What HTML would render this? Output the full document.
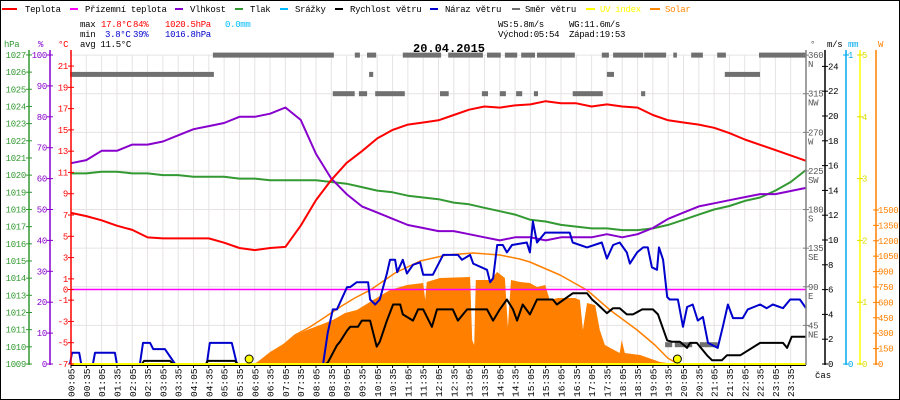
<!DOCTYPE html>
<html><head><meta charset="utf-8">
<style>
html,body{margin:0;padding:0;background:#fff;}
svg{display:block;font-family:"Liberation Mono","DejaVu Sans Mono",monospace;}
</style></head>
<body>
<svg id="chart" width="900" height="400" viewBox="0 0 900 400" xmlns="http://www.w3.org/2000/svg">
<rect x="0" y="0" width="900" height="400" fill="#fff"/>
<rect x="0.5" y="0.5" width="899" height="399" fill="none" stroke="#000"/>
<g id="grid"></g>
<g id="series"></g>
<g id="axes"></g>
<g font-size="9" letter-spacing="-0.3">
 <g><rect x="2" y="8" width="15" height="2" fill="#f00"/><text x="25" y="12">Teplota</text></g>
 <g><rect x="70" y="8" width="8" height="2" fill="#f0f"/><text x="85" y="12">Přízemní teplota</text></g>
 <g><rect x="175" y="8" width="8" height="2" fill="#80c"/><text x="190" y="12">Vlhkost</text></g>
 <g><rect x="235" y="8" width="8" height="2" fill="#393"/><text x="250" y="12">Tlak</text></g>
 <g><rect x="280" y="8" width="8" height="2" fill="#0bf"/><text x="295" y="12">Srážky</text></g>
 <g><rect x="335" y="8" width="8" height="2" fill="#000"/><text x="350" y="12">Rychlost větru</text></g>
 <g><rect x="430" y="8" width="8" height="2" fill="#00c"/><text x="445" y="12">Náraz větru</text></g>
 <g><rect x="512" y="8" width="8" height="2" fill="#707070"/><text x="525" y="12">Směr větru</text></g>
 <g><rect x="586" y="8" width="9" height="2" fill="#ff0"/><text x="600" y="12" fill="#ff0">UV index</text></g>
 <g><rect x="650" y="8" width="10" height="2" fill="#f80"/><text x="665" y="12" fill="#f80">Solar</text></g>
</g>
<g font-size="9" letter-spacing="-0.3">
 <text x="80" y="27">max</text><text x="101" y="27" fill="#f00">17.8°C</text><text x="133" y="27" fill="#f00">84%</text><text x="165" y="27" fill="#f00">1020.5hPa</text><text x="225" y="27" fill="#0bf">0.0mm</text>
 <text x="80" y="37">min</text><text x="105" y="37" fill="#00c">3.8°C</text><text x="133" y="37" fill="#00c">39%</text><text x="165" y="37" fill="#00c">1016.8hPa</text>
 <text x="80" y="47">avg 11.5°C</text>
 <text x="498" y="27">WS:5.8m/s</text><text x="569" y="27">WG:11.6m/s</text>
 <text x="498" y="37">Východ:05:54</text><text x="569" y="37">Západ:19:53</text>
</g>
<text x="413" y="52" font-size="12" font-weight="bold">20.04.2015</text>
<text x="815" y="378" font-size="9">čas</text>
</svg>
<script>
// ---- data ----
const halfHourTimes = [5,35,65,95,125,155,185,215,245,275,305,335,365,395,425,455,485,515,545,575,605,635,665,695,725,755,785,815,845,875,905,935,965,995,1025,1055,1085,1115,1145,1175,1205,1235,1265,1295,1325,1355,1385,1415,1445];
const temperature = [7.2,6.9,6.5,6.0,5.6,4.9,4.8,4.8,4.8,4.8,4.4,3.9,3.7,3.9,4.0,6.0,8.4,10.3,11.9,13.0,14.2,15.0,15.5,15.7,15.9,16.4,16.9,17.2,17.1,17.3,17.4,17.7,17.5,17.5,17.2,17.4,17.2,17.1,16.4,15.9,15.7,15.5,15.2,14.7,14.1,13.6,13.1,12.6,12.1];
const humidity = [65,66,69,69,71,71,72,74,76,77,78,80,80,81,83,79,68,60,55,51,49,47,45,44,43,43,42,41,40,41,41,40,41,41,41,42,41,42,44,47,49,51,52,53,54,55,55,56,57];
const pressure = [1020.1,1020.1,1020.2,1020.2,1020.1,1020.1,1020.0,1020.0,1019.9,1019.9,1019.9,1019.8,1019.8,1019.7,1019.7,1019.7,1019.7,1019.6,1019.5,1019.3,1019.1,1019.0,1018.8,1018.7,1018.6,1018.4,1018.3,1018.1,1017.9,1017.7,1017.4,1017.3,1017.1,1017.0,1016.9,1016.9,1016.8,1016.8,1016.9,1017.1,1017.4,1017.7,1018.0,1018.2,1018.5,1018.7,1019.1,1019.6,1020.3];

const gustTimes = [3,7,21,25,48,52,91,95,140,146,160,166,189,209,271,277,320,330,499,508,518,526,546,552,565,587,591,601,610,624,630,640,644,655,663,675,689,695,714,734,763,771,787,793,820,826,832,840,851,859,869,898,904,910,918,934,982,988,1016,1045,1055,1067,1080,1094,1100,1114,1126,1135,1143,1153,1157,1165,1173,1178,1194,1204,1212,1223,1233,1243,1253,1272,1282,1292,1302,1321,1331,1355,1368,1380,1400,1414,1433,1445];
const gustValues = [0,0.9,0.9,0,0,0.9,0.9,0,0,1.7,1.7,1.2,1.2,0,0,1.7,1.7,0,0,2.5,4.4,4.4,6.2,6.2,6.6,6.6,5.2,4.8,5.2,7.3,8.4,8.4,7.4,8.4,7.3,8.0,8.2,7.2,7.2,8.8,8.8,8.4,8.8,8.1,7.6,6.6,6.9,9.6,9.6,9.0,9.6,9.8,9.0,11.5,9.8,10.6,10.6,9.8,9.4,9.8,8.5,9.6,9.8,9.0,8.1,9.0,9.4,9.4,7.8,7.6,9.4,8.4,5.4,5.2,5.2,3.0,4.6,4.8,3.5,3.8,1.7,1.3,3.0,4.8,3.7,3.7,4.4,4.8,4.5,4.8,4.5,5.2,5.2,4.5];

const windTimes = [5,144,148,199,205,269,273,326,332,503,508,526,532,546,552,567,575,591,604,610,624,636,650,655,675,685,695,712,722,753,763,781,820,832,845,859,871,879,890,904,918,949,957,988,1016,1026,1037,1055,1067,1080,1094,1106,1124,1145,1155,1173,1182,1198,1212,1218,1231,1251,1261,1280,1290,1316,1355,1400,1408,1417,1445];
const windValues = [0,0,0.25,0.25,0,0,0.25,0.25,0,0,0.1,1.5,1.8,2.7,3.0,3.0,3.5,3.5,1.4,1.8,3.5,4.8,4.8,4.0,3.5,4.4,4.4,3.0,4.4,4.4,3.5,4.4,4.4,3.5,4.4,5.2,4.4,3.5,4.8,4.0,5.2,5.2,4.8,5.7,5.7,5.2,4.8,4.1,4.5,4.5,4.0,4.0,4.4,4.4,4.0,1.9,1.8,1.8,1.3,1.7,1.7,0.7,0.3,0.3,0.7,0.7,1.7,1.7,1.3,2.2,2.2];

const solarTimes = [365,395,424,444,467,493,518,542,565,597,630,663,695,699,702,728,787,791,795,798,826,840,855,861,867,885,904,918,934,943,959,967,992,1002,1008,1016,1032,1041,1051,1080,1084,1090,1120,1159,1188];
const solarValues = [0,117,204,282,331,380,428,497,526,623,721,769,789,623,798,837,847,234,185,818,818,896,837,360,818,798,789,750,769,623,643,643,643,623,331,594,574,331,185,107,234,107,88,19,0];

const solarMaxTimes = [365,385,414,444,473,503,532,561,591,620,640,689,741,793,845,884,904,963,1016,1061,1114,1149,1174,1194];
const solarMaxValues = [0,39,156,282,360,458,555,643,720,818,886,1003,1061,1081,1061,1022,993,867,720,526,331,185,58,0];

const dirStart = [3,589,1055,1286,283,561,585,655,744,820,855,887,918,1045,1067,1128,1185,1220,1271,1353,518,569,601,728,810,845,877,912,988,1122,1169,1188,1237];
const dirEnd   = [285,597,1069,1355,520,571,603,730,812,847,879,914,992,1059,1126,1171,1192,1243,1288,1445,561,585,659,745,822,857,889,920,1047,1130,1183,1222,1272];
const dirDeg   = [337.5,337.5,337.5,337.5,360,360,360,360,360,360,360,360,360,360,360,360,360,360,360,360,315,315,315,315,315,315,315,315,315,315,22.5,22.5,22.5];

const sunEventTimes = [354,1193];
const tempLabels = [21,19,17,15,13,11,9,7,5,3,1,0,-1,-3,-5,-7];
const hpaLabels = [1027,1026,1025,1024,1023,1022,1021,1020,1019,1018,1017,1016,1015,1014,1013,1012,1011,1010,1009];
const humLabels = [100,90,80,70,60,50,40,30,20,10,0];
const degLabels = [[360,'N'],[315,'NW'],[270,'W'],[225,'SW'],[180,'S'],[135,'SE'],[90,'E'],[45,'NE']];
const msLabels = [24,22,20,18,16,14,12,10,8,6,4,2,0];
const uvLabels = [5,4,3,2,1,0];
const wLabels = [1500,1350,1200,1050,900,750,600,450,300,150,0];

// ---- scales ----
const X0=71, X1=806, YB=364;
const xOf = m => X0 + (m-5)*(X1-X0)/1440;
const yT = t => 289.5 - t*10.64;
const yP = p => YB - (p-1009)*17.17;
const yH = h => YB - h*3.09;
const yW = v => YB - v*12.4;
const yDeg = d => YB - d*0.858;
const ySol = w => YB - w*0.1027;
const yUV = u => YB - u*61.8;
const yMM = m => YB - m*309;

const NS='http://www.w3.org/2000/svg';
function mk(tag, attrs, parent){const e=document.createElementNS(NS,tag);for(const k in attrs)e.setAttribute(k,attrs[k]);parent.appendChild(e);return e;}
const grid=document.getElementById('grid'), ser=document.getElementById('series'), axes=document.getElementById('axes');

// grid
for(let k=0;k<48;k++){const x=X0+k*(X1-X0)/48;
 const l=mk('line',{x1:x,y1:55,x2:x,y2:YB,stroke:'#e6e2e2','stroke-width':1},grid);
 
 }
for(let d=45;d<=360;d+=45){const y=yDeg(d);
 const l=mk('line',{x1:X0,y1:y,x2:X1,y2:y,stroke:'#e6e2e2','stroke-width':1},grid);
 
 }

function poly(ts,vs,yf,color,w,name){
 const pts=ts.map((t,i)=>xOf(t).toFixed(1)+','+yf(vs[i]).toFixed(1)).join(' ');
 const p=mk('polyline',{points:pts,fill:'none',stroke:color,'stroke-width':w,'stroke-linejoin':'round'},ser);
 
 
 return p;}

// solar area
{const pts=[xOf(solarTimes[0])+','+YB].concat(solarTimes.map((t,i)=>xOf(t).toFixed(1)+','+ySol(solarValues[i]).toFixed(1))).concat([xOf(solarTimes[solarTimes.length-1])+','+YB]);
 const a=mk('polygon',{points:pts.join(' '),fill:'#ff8000'},ser);
 
 }
poly(solarMaxTimes,solarMaxValues,ySol,'#ff8000',1.5,'solar-max-line');
// zero line
{const l=mk('line',{x1:X0,y1:yT(0),x2:X1,y2:yT(0),stroke:'#f0f','stroke-width':1.5},ser);
 
 }
// wind direction
dirStart.forEach((s,i)=>{
 const r=mk('rect',{x:xOf(s).toFixed(1),y:(yDeg(dirDeg[i])-2.5).toFixed(1),width:(xOf(dirEnd[i])-xOf(s)).toFixed(1),height:5,fill:'#707070'},ser);
 
 });
poly(halfHourTimes,pressure,yP,'#339933',2,'pressure-line');
poly(halfHourTimes,humidity,yH,'#8800cc',2,'humidity-line');
poly(halfHourTimes,temperature,yT,'#ff0000',2,'temperature-line');
poly(gustTimes,gustValues,yW,'#0000cc',2,'gust-line');
poly(windTimes,windValues,yW,'#000000',2,'wind-speed-line');
// UV line at 0
{const l=mk('line',{x1:X0,y1:YB,x2:X1,y2:YB,stroke:'#ffff00','stroke-width':2},ser);
 
 }
sunEventTimes.forEach(t=>{const c=mk('circle',{cx:xOf(t),cy:YB-5,r:4,fill:'#ffff00',stroke:'#000','stroke-width':1},ser);
 
 });

// axes
function vline(x,color,name){const l=mk('line',{x1:x,y1:50,x2:x,y2:YB+1,stroke:color,'stroke-width':1.5},axes);
 
 }
function label(x,y,txt,color,anchor,name,size){const t=mk('text',{x:x,y:y,fill:color,'font-size':size||9,'text-anchor':anchor||'start','letter-spacing':'-0.3'},axes);t.textContent=txt;
 
 return t;}
function tick(x,y,color){mk('line',{x1:x-3,y1:y,x2:x+3,y2:y,stroke:color,'stroke-width':1},axes);}

vline(29,'#339933','pressure-axis'); vline(50,'#8800cc','humidity-axis'); vline(71,'#ff0000','temperature-axis');
hpaLabels.forEach(p=>{tick(29,yP(p),'#339933');label(26,yP(p)+3,String(p),'#339933','end','pressure-tick-label');});
humLabels.forEach(h=>{tick(50,yH(h),'#8800cc');label(47,yH(h)+3,String(h),'#8800cc','end','humidity-tick-label');});
tempLabels.forEach(t=>{tick(71,yT(t),'#ff0000');label(68,yT(t)+3,String(t),'#ff0000','end','temperature-tick-label');});
label(4,47,'hPa','#339933','start','pressure-axis-title');
label(38,47,'%','#8800cc','start','humidity-axis-title');
label(58,47,'°C','#ff0000','start','temperature-axis-title');

vline(806,'#808080','direction-axis'); vline(825,'#000','wind-axis'); vline(846,'#00aaee','rain-axis'); vline(860,'#ffff00','uv-axis'); vline(876,'#ff8000','solar-axis');
degLabels.forEach(d=>{const y=yDeg(d[0]);mk('line',{x1:803,y1:y,x2:809,y2:y,stroke:'#808080'},axes);
 label(808,y+3,String(d[0]),'#555','start','direction-tick-label');label(808,y+12,d[1],'#555','start','direction-name-label');});
msLabels.forEach(v=>{tick(825,yW(v),'#000');label(828,yW(v)+3,String(v),'#000','start','wind-tick-label');});
[1,0].forEach(m=>{tick(846,yMM(m),'#00aaee');label(848,yMM(m)+3,String(m),'#00aaee','start','rain-tick-label');});
uvLabels.forEach(u=>{tick(860,yUV(u),'#dddd00');label(862,yUV(u)+3,String(u),'#dddd00','start','uv-tick-label');});
wLabels.forEach(w=>{tick(876,ySol(w),'#ff8000');label(878,ySol(w)+3,String(w),'#ff8000','start','solar-tick-label');});
label(810,47,'°','#555','start','direction-axis-title');
label(827,47,'m/s','#000','start','wind-axis-title');
label(848,47,'mm','#00aaee','start','rain-axis-title');
label(878,47,'W','#ff8000','start','solar-axis-title');

// x axis
{const l=mk('line',{x1:X0,y1:YB+1.5,x2:X1,y2:YB+1.5,stroke:'#000','stroke-width':1},axes);
 
 }
for(let k=0;k<48;k++){const m=5+30*k;const x=xOf(m);
 mk('line',{x1:x,y1:YB+1,x2:x,y2:YB+4,stroke:'#000'},axes);
 const hh=String(Math.floor(m/60)).padStart(2,'0'), mm=String(m%60).padStart(2,'0');
 const t=mk('text',{x:0,y:0,'font-size':9.5,transform:'translate('+(x+3.5)+',397) rotate(-90)'},axes);
 t.textContent=hh+':'+mm;
 
 }
</script>
</body></html>
